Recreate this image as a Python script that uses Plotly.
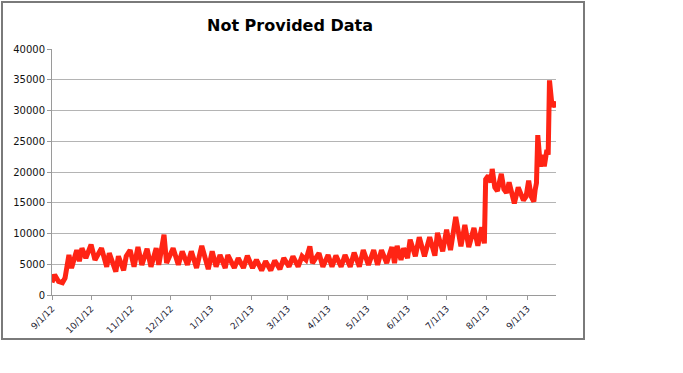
import plotly.graph_objects as go

dates = [
    "2012-09-01", "2012-09-03", "2012-09-06", "2012-09-09", "2012-09-11", "2012-09-13", "2012-09-14",
    "2012-09-16", "2012-09-18", "2012-09-20", "2012-09-22", "2012-09-24", "2012-09-27", "2012-10-01",
    "2012-10-04", "2012-10-09", "2012-10-13", "2012-10-15", "2012-10-20", "2012-10-22", "2012-10-26",
    "2012-10-28", "2012-10-31", "2012-11-03", "2012-11-06", "2012-11-09", "2012-11-13", "2012-11-16",
    "2012-11-20", "2012-11-22", "2012-11-26", "2012-11-28", "2012-12-03", "2012-12-07", "2012-12-10",
    "2012-12-14", "2012-12-17", "2012-12-21", "2012-12-25", "2012-12-30", "2013-01-02", "2013-01-05",
    "2013-01-08", "2013-01-12", "2013-01-14", "2013-01-19", "2013-01-22", "2013-01-26", "2013-01-29",
    "2013-02-02", "2013-02-05", "2013-02-09", "2013-02-12", "2013-02-16", "2013-02-19", "2013-02-23",
    "2013-02-26", "2013-03-02", "2013-03-05", "2013-03-09", "2013-03-12", "2013-03-15", "2013-03-18",
    "2013-03-20", "2013-03-25", "2013-03-28", "2013-04-01", "2013-04-04", "2013-04-07", "2013-04-11",
    "2013-04-14", "2013-04-18", "2013-04-21", "2013-04-25", "2013-04-28", "2013-05-02", "2013-05-06",
    "2013-05-09", "2013-05-12", "2013-05-16", "2013-05-20", "2013-05-22", "2013-05-24", "2013-05-27",
    "2013-05-29", "2013-06-01", "2013-06-03", "2013-06-07", "2013-06-10", "2013-06-14", "2013-06-18",
    "2013-06-22", "2013-06-24", "2013-06-28", "2013-07-01", "2013-07-04", "2013-07-08", "2013-07-12",
    "2013-07-15", "2013-07-18", "2013-07-22", "2013-07-25", "2013-07-28", "2013-07-30", "2013-07-31",
    "2013-08-02", "2013-08-04", "2013-08-05", "2013-08-07", "2013-08-09", "2013-08-12", "2013-08-14",
    "2013-08-16", "2013-08-18", "2013-08-20", "2013-08-22", "2013-08-25", "2013-08-27", "2013-08-29",
    "2013-08-31", "2013-09-02", "2013-09-04", "2013-09-06", "2013-09-07", "2013-09-08", "2013-09-09",
    "2013-09-11", "2013-09-13", "2013-09-14", "2013-09-16", "2013-09-17", "2013-09-18", "2013-09-20",
    "2013-09-22", "2013-09-23",
]

values = [
    2050, 3300, 2200, 2000, 2750, 6300, 6500,
    4400, 5700, 7300, 5500, 7600, 6000, 8200,
    5700, 7600, 4600, 6800, 3800, 6300, 4000,
    6300, 7300, 4600, 7800, 4900, 7500, 4600,
    7600, 4900, 9800, 5200, 7600, 4900, 7100,
    4900, 7100, 4400, 8000, 4200, 7100, 4600,
    6500, 4400, 6500, 4400, 6000, 4400, 6400,
    4400, 5700, 4000, 5500, 4000, 5600, 4200,
    6000, 4600, 6300, 4600, 6300, 5700, 7900,
    5200, 6800, 4600, 6500, 4600, 6400, 4600,
    6500, 4600, 6900, 4600, 7300, 4900, 7300,
    4900, 7300, 5200, 7800, 5200, 8000, 5700,
    7600, 6000, 9000, 6300, 9400, 6300, 9400,
    6400, 10100, 7100, 10600, 7300, 12700, 7900,
    11400, 7800, 10900, 8000, 11000, 8400, 18800,
    19400, 18300, 20500, 17500, 16900, 19700, 17200,
    16600, 18300, 16600, 14900, 17500, 16300, 15400,
    16000, 18600, 16000, 15200, 17100, 18200, 26000,
    20900, 22800, 20900, 23600, 22800, 34900, 30600,
    31400, 30500,
]

tick_dates = ["2012-09-01", "2012-10-01", "2012-11-01", "2012-12-01", "2013-01-01", "2013-02-01",
              "2013-03-01", "2013-04-01", "2013-05-01", "2013-06-01", "2013-07-01", "2013-08-01",
              "2013-09-01"]
tick_labels = ["9/1/12", "10/1/12", "11/1/12", "12/1/12", "1/1/13", "2/1/13", "3/1/13",
               "4/1/13", "5/1/13", "6/1/13", "7/1/13", "8/1/13", "9/1/13"]
y_ticks = [0, 5000, 10000, 15000, 20000, 25000, 30000, 35000, 40000]
y_labels = ["0", "5000", "10000", "15000", "20000", "25000", "30000", "35000", "40000"]

fig = go.Figure()
fig.add_trace(go.Scatter(
    x=dates, y=values, mode="lines",
    line=dict(color="#ff2414", width=5),
    hoverinfo="x+y", showlegend=False,
))

fig.update_layout(
    width=683, height=373,
    margin=dict(l=52, r=127, t=49, b=78),
    paper_bgcolor="white", plot_bgcolor="white",
    title=dict(text="<b>Not Provided Data</b>", x=290 / 683, xanchor="center",
               y=1 - 25 / 373, yanchor="middle",
               font=dict(family="DejaVu Sans", size=16, color="black")),
    font=dict(family="DejaVu Sans", color="black"),
    xaxis=dict(
        range=["2012-09-01", "2013-09-23"],
        tickvals=tick_dates, ticktext=tick_labels, tickangle=-45,
        tickfont=dict(size=9, color="#222233"),
        showgrid=False, showline=True, linecolor="#9a9a9a", linewidth=1,
        ticks="outside", ticklen=4, tickcolor="#9a9a9a",
        zeroline=False, automargin=False,
    ),
    yaxis=dict(
        range=[0, 40000], tickvals=y_ticks, ticktext=y_labels,
        tickfont=dict(size=10, color="#111111"),
        showgrid=True, gridcolor="#b4b4b4", gridwidth=1,
        showline=True, linecolor="#9a9a9a", linewidth=1,
        ticks="outside", ticklen=4, tickcolor="#9a9a9a",
        zeroline=False, automargin=False,
    ),
    shapes=[dict(
        type="rect", xref="paper", yref="paper",
        x0=(2 - 52) / 504, x1=(584 - 52) / 504,
        y0=(295 - 339) / 246, y1=(295 - 2) / 246,
        line=dict(color="#7a7a7a", width=2), fillcolor="rgba(0,0,0,0)", layer="below",
    )],
)

fig.write_html("out.html", config={"displayModeBar": False},
               post_script="document.body.style.margin='0';")
